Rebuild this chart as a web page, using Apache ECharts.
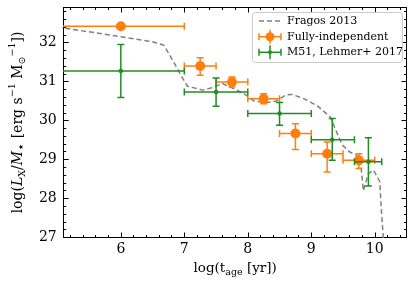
<!DOCTYPE html>
<html><head><meta charset="utf-8">
<script src="https://cdn.jsdelivr.net/npm/echarts@6/dist/echarts.min.js"></script>
<style>html,body{margin:0;padding:0;background:#fff}#c{width:415px;height:284px}</style>
</head><body><div id="c"></div>
<script>
// Fragos 2013 model curve [log t, log Lx/M]
const fragosX = [5.0,6.0,6.5,6.68,6.85,6.96,7.05,7.29,7.45,7.6,7.8,7.95,8.1,8.3,8.45,8.6,8.7,8.9,9.1,9.3,9.4,9.49,9.6,9.72,9.77,9.82,9.9,9.98,10.08,10.1,10.13,10.16];
const fragosY = [32.4,32.15,32.02,31.93,31.45,31.12,30.88,30.78,30.85,30.95,30.8,30.68,30.5,30.46,30.5,30.66,30.67,30.55,30.37,30.09,29.7,29.37,29.2,29.1,29.05,28.2,28.64,28.73,28.43,27.8,27.1,26.4];
// Fully-independent
const indX    = [6.0,7.25,7.75,8.25,8.75,9.25,9.75];
const indXlo  = [5.0,7.0,7.5,8.0,8.5,9.0,9.5];
const indXhi  = [7.0,7.5,8.0,8.5,9.0,9.5,10.0];
const indY    = [32.42,31.40,30.99,30.56,29.67,29.15,28.98];
const indYlo  = [32.42,31.16,30.86,30.43,29.26,28.68,28.77];
const indYhi  = [32.42,31.61,31.12,30.69,29.92,29.45,29.15];
// M51, Lehmer+ 2017
const m51X    = [6.0,7.5,8.5,9.33,9.9];
const m51Xlo  = [5.0,7.0,8.0,9.0,9.68];
const m51Xhi  = [7.0,8.0,9.0,9.68,10.11];
const m51Y    = [31.27,30.73,30.18,29.51,28.94];
const m51Ylo  = [30.59,30.37,29.88,28.98,28.32];
const m51Yhi  = [31.95,31.09,30.46,30.05,29.56];
// ticks
const xTicks = [6,7,8,9,10];
const yTicks = [27,28,29,30,31,32];
const xMin = 5.1, xMax = 10.5, yMin = 27, yMax = 32.9;

const ORANGE = '#ff7f0e', GREEN = '#218c21', GRAY = '#808080';
const FONT = 'DejaVu Serif';

function minorList(a, b) {
  const out = [];
  for (let v = Math.ceil(a * 5); v <= Math.floor(b * 5); v++) {
    if (v % 5 !== 0) out.push(+(v / 5).toFixed(1));
  }
  return out;
}
const xMinor = minorList(xMin, xMax), yMinor = minorList(yMin, yMax);

function axis(kind, pos, ticks, len, labels) {
  const isX = kind === 'x';
  return {
    type: 'value', position: pos,
    min: isX ? xMin : yMin, max: isX ? xMax : yMax,
    axisLine: {show: true, onZero: false, lineStyle: {color: '#000', width: 1}},
    axisTick: {show: true, inside: true, length: len, customValues: ticks, lineStyle: {color: '#000', width: 1}},
    axisLabel: {show: labels, customValues: isX ? xTicks : yTicks, color: '#000', fontFamily: FONT, fontSize: 14, margin: isX ? 5 : 7},
    splitLine: {show: false}, minorTick: {show: false},
    axisPointer: {show: false}
  };
}

const xAxes = [axis('x','bottom',xTicks,5,true), axis('x','bottom',xMinor,2.5,false), axis('x','top',xTicks,5,false), axis('x','top',xMinor,2.5,false)];
const yAxes = [axis('y','left',yTicks,5,true), axis('y','left',yMinor,2.5,false), axis('y','right',yTicks,5,false), axis('y','right',yMinor,2.5,false)];
xAxes[0].name = '{n|log(t}{s|age}{n| [yr])}';
xAxes[0].nameLocation = 'middle';
xAxes[0].nameGap = 22;
xAxes[0].nameTextStyle = {rich: {
  n: {fontFamily: FONT, fontSize: 13.5, color: '#000', lineHeight: 18, verticalAlign: 'middle'},
  s: {fontFamily: FONT, fontSize: 9.5, color: '#000', lineHeight: 18, verticalAlign: 'bottom', padding: [4,0,0,0]}
}};
yAxes[0].name = '{n|log(}{i|L}{s|X}{n|/}{i|M}{st|⋆}{n| [erg s}{p|−1}{n| M}{s|⊙}{p|−1}{n|])}';
yAxes[0].nameLocation = 'middle';
yAxes[0].nameGap = 31;
yAxes[0].nameRotate = 90;
yAxes[0].nameTextStyle = {rich: {
  n: {fontFamily: FONT, fontSize: 14, color: '#000', lineHeight: 20, verticalAlign: 'middle'},
  i: {fontFamily: FONT, fontStyle: 'italic', fontSize: 14, color: '#000', lineHeight: 20, verticalAlign: 'middle'},
  s: {fontFamily: FONT, fontSize: 9.5, color: '#000', lineHeight: 20, verticalAlign: 'bottom', padding: [5,0,0,0]},
  st: {fontFamily: 'DejaVu Sans', fontSize: 13, color: '#000', lineHeight: 20, verticalAlign: 'bottom', padding: [3,0,0,0]},
  p: {fontFamily: FONT, fontSize: 9.5, color: '#000', lineHeight: 20, verticalAlign: 'top', padding: [0,0,6,0]}
}};

function errData(X, Xlo, Xhi, Y, Ylo, Yhi) {
  return X.map((x, i) => [x, Y[i], Xlo[i], Xhi[i], Ylo[i], Yhi[i]]);
}
function errRender(color, cap) {
  return function (params, api) {
    const p = api.coord([api.value(0), api.value(1)]);
    const l = api.coord([api.value(2), api.value(1)]);
    const r = api.coord([api.value(3), api.value(1)]);
    const b = api.coord([api.value(0), api.value(4)]);
    const t = api.coord([api.value(0), api.value(5)]);
    const st = {stroke: color, lineWidth: 1.5};
    const ch = [
      {type: 'line', shape: {x1: l[0], y1: p[1], x2: r[0], y2: p[1]}, style: st},
      {type: 'line', shape: {x1: l[0], y1: p[1]-cap, x2: l[0], y2: p[1]+cap}, style: st},
      {type: 'line', shape: {x1: r[0], y1: p[1]-cap, x2: r[0], y2: p[1]+cap}, style: st}
    ];
    if (Math.abs(t[1] - b[1]) > 0.5) {
      ch.push({type: 'line', shape: {x1: p[0], y1: b[1], x2: p[0], y2: t[1]}, style: st});
      ch.push({type: 'line', shape: {x1: p[0]-cap, y1: b[1], x2: p[0]+cap, y2: b[1]}, style: st});
      ch.push({type: 'line', shape: {x1: p[0]-cap, y1: t[1], x2: p[0]+cap, y2: t[1]}, style: st});
    }
    return {type: 'group', children: ch};
  };
}

const legendRows = [21, 36.7, 52.3];
const LX = 259, LW = 22, TX = 287;
const st15 = (c) => ({stroke: c, lineWidth: 1.5});
const graphics = [
  {type: 'rect', shape: {x: 252.5, y: 12.5, width: 150, height: 50, r: 3}, style: {fill: 'rgba(255,255,255,0.8)', stroke: '#cccccc', lineWidth: 1}, z: 10},
  {type: 'line', shape: {x1: LX, y1: legendRows[0], x2: LX+LW, y2: legendRows[0]}, style: {stroke: GRAY, lineWidth: 1.5, lineDash: [5,3]}, z: 11},
  {type: 'line', shape: {x1: LX, y1: legendRows[1], x2: LX+LW, y2: legendRows[1]}, style: st15(ORANGE), z: 11},
  {type: 'line', shape: {x1: LX, y1: legendRows[1]-3.5, x2: LX, y2: legendRows[1]+3.5}, style: st15(ORANGE), z: 11},
  {type: 'line', shape: {x1: LX+LW, y1: legendRows[1]-3.5, x2: LX+LW, y2: legendRows[1]+3.5}, style: st15(ORANGE), z: 11},
  {type: 'line', shape: {x1: LX+LW/2, y1: legendRows[1]-7, x2: LX+LW/2, y2: legendRows[1]+7}, style: st15(ORANGE), z: 11},
  {type: 'circle', shape: {cx: LX+LW/2, cy: legendRows[1], r: 4.5}, style: {fill: ORANGE}, z: 11},
  {type: 'line', shape: {x1: LX, y1: legendRows[2], x2: LX+LW, y2: legendRows[2]}, style: st15(GREEN), z: 11},
  {type: 'line', shape: {x1: LX, y1: legendRows[2]-3.5, x2: LX, y2: legendRows[2]+3.5}, style: st15(GREEN), z: 11},
  {type: 'line', shape: {x1: LX+LW, y1: legendRows[2]-3.5, x2: LX+LW, y2: legendRows[2]+3.5}, style: st15(GREEN), z: 11},
  {type: 'line', shape: {x1: LX+LW/2, y1: legendRows[2]-7, x2: LX+LW/2, y2: legendRows[2]+7}, style: st15(GREEN), z: 11},
  {type: 'circle', shape: {cx: LX+LW/2, cy: legendRows[2], r: 2}, style: {fill: GREEN}, z: 11},
];
const legendNames = ['Fragos 2013', 'Fully-independent', 'M51, Lehmer+ 2017'];
legendNames.forEach((n, i) => graphics.push({type: 'text', x: TX, y: legendRows[i], style: {text: n, fontFamily: FONT, fontSize: 11, fill: '#000', verticalAlign: 'middle', align: 'left'}, z: 11}));

const chart = echarts.init(document.getElementById('c'), null, {renderer: 'canvas'});
chart.setOption({
  animation: false,
  backgroundColor: '#fff',
  grid: {left: 53, right: 8.5, top: 7.5, bottom: 46.5, containLabel: false},
  xAxis: xAxes, yAxis: yAxes,
  series: [
    {type: 'line', name: 'Fragos 2013', data: fragosX.map((x, i) => [x, fragosY[i]]), showSymbol: false, clip: true,
     lineStyle: {color: GRAY, width: 1.5, type: [5, 3]}, z: 2},
    {type: 'custom', name: 'Fully-independent err', data: errData(indX, indXlo, indXhi, indY, indYlo, indYhi), renderItem: errRender(ORANGE, 3.5), clip: true, z: 3},
    {type: 'scatter', name: 'Fully-independent', data: indX.map((x, i) => [x, indY[i]]), symbol: 'circle', symbolSize: 10, itemStyle: {color: ORANGE, opacity: 1}, z: 4},
    {type: 'custom', name: 'M51 err', data: errData(m51X, m51Xlo, m51Xhi, m51Y, m51Ylo, m51Yhi), renderItem: errRender(GREEN, 3.5), clip: true, z: 5},
    {type: 'scatter', name: 'M51, Lehmer+ 2017', data: m51X.map((x, i) => [x, m51Y[i]]), symbol: 'circle', symbolSize: 4.5, itemStyle: {color: GREEN, opacity: 1}, z: 6}
  ],
  graphic: graphics
});
</script></body></html>
